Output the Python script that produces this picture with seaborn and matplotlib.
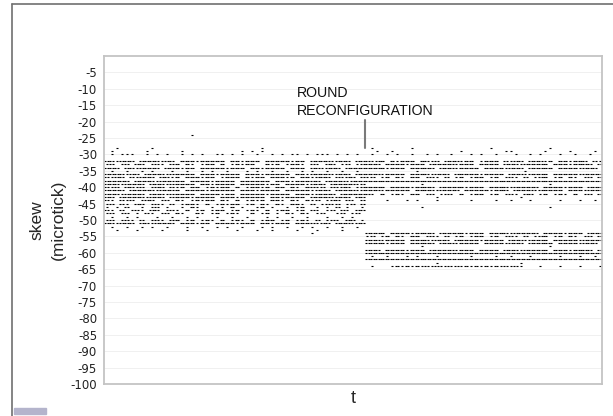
import numpy as np
import pandas as pd
import matplotlib
matplotlib.use("Agg")
import matplotlib.pyplot as plt
import seaborn as sns
from matplotlib.patches import Rectangle
from matplotlib.lines import Line2D

# ---- data -----------------------------------------------------------------
# Each row: skew level (microtick) and a per-bin dot count string
# ('.' = 0 dots, ':' = 1 dot, '#' = 2 dots); one bin = 1 unit of t.
split_t = 52.4          # round reconfiguration instant
t_max = 100.0

left_levels = [-24, -28, -29, -30, -32, -33, -34, -35, -36, -37, -38, -39, -40,
               -41, -42, -43, -44, -45, -46, -47, -48, -49, -50, -51, -52, -53, -54]
left_rows = [
    ".................:",
    "..:......:.....................:",
    ".:......:......:...........:.:.:",
    ".:.:::..:.:.:..:.:.:..::.:.:..:..:.:.::.:.:::.:.:.:.",
    "##:###.####:##.###:#####.##:###.#####:##.####:###.##",
    ":#.:#.##.:#:.##.#:.:##.#.:#:##..#:#.:##:.#:.##.:#.:#",
    "###.##:####.###:##.#####:###.##:####.###.##:###.####",
    ".:..:..:.:...:..:..:.:..:...:.:..:..:..:.:..:..:..:.",
    "####:##.####:#####.###:####.###:#####.##:####:###.##",
    "#:##.#:###.##:#.###:##.:###.#:##.###:#.##:###.#:##.#",
    "#####.####:#####.####:####.######.###:#####.####:###",
    "###:####.###:#####.##:####.#####:##.####:###.#####:#",
    "#:#.##:#.:##.#:#.##.:#:##.#.:##:#.##.#:.##:#.#:##.:#",
    "####.#####:####.####:#####.###:####.#####:###.####:#",
    "###:####.###:#####.####:##.#####:####.###:####.#####",
    "##.#####:###.####:####.###:#####.##:####.####:###.##",
    "#:.#:#.:##.:#.#:.:#:##.#:.#.:#:#.##:.#:.#:#.:##.#:.#",
    ":#.#:.##.:#:.#.:##:.#.:#:##.:#.#:.#:.##:.#.:#:#.:#.#",
    ":.:.#..:.:#.:..:.#:..:.:.#.:..:#.:..:.:#..:.:.#.:..:",
    "#:.#.:#:.##.:#:.#.:#.:##.:#.:#:.#.:##.:#.#:.:#.#:.##",
    ":#.:#.:.#:.:#.#:..#:.:#.:#:..#.:#.:.#:.#:.:#..:#.:#.",
    ".:..:.:...:..:..:.:...:..:..:...:.:..:..:...:..:.:..",
    ":#.:#:.#.:#:.##.:#.:#:.#.:#:.#.:##.:#.:#:.#.:#:.##.:",
    "##:###.##:####.###:##.####:###.##:###.####:##.###:##",
    ".:..:..:.:..:...:..:..:.:..:...:.:..:..:.:..:..:..:.",
    "..:...:....:....:...:.....:...:..:....:...:....:....",
    ".........................................:",
]

right_levels = [-28, -29, -30, -32, -33, -34, -35, -36, -37, -38, -39, -40, -41,
                -42, -43, -44, -46, -54, -55, -56, -57, -58, -59, -60, -61, -62,
                -63, -64]
right_rows = [
    ".:.......:...............:...........:",
    "..:..:.............:........::......:....:....:",
    ".:..:.:..:..:.:..:...:.:..:...:..:.:...:..:..:..",
    "#:##.#:###.##:#.###:##.:###.#:##.###:#.##:###.#:",
    "###.####:###.#####:###.####.###:#####.###:####.#",
    "####:###.#####.###:####.####:###.#####.####:###.",
    "..........:.....................:..............",
    "###:####.####:###.#####:####.###:####.#####:####",
    ":#.:#.#:.##.:#:.#.:#.:##.:#.:#:.#.:##.:#.#:.:#.#",
    "################################################",
    "...........:.........................:.........",
    "####.####:####.#####:###.####:#####.####:###.###",
    "###:#####.####:####.#####:###.####:#####.###:###",
    "#:.#.:#:.##.:#.:#:.#.:##.:#.:#:.##.:#.:#:.#.:#.#",
    "..............:................:...............",
    "....:...:.:...:......:....:..:...:.....:...:..:",
    "...........:.........................:.........",
    "####.####:####.#####:###.####:#####.####:###.###",
    ":#.:#.#:.##.:#:.#.:#.:##.:#.:#:.#.:##.:#.#:.:#.#",
    "###:####.####:###.#####:####.###:####.#####:####",
    "####:###.#####.###:####.####:###.#####.####:###.",
    "...........:.........................:.........",
    "###.####:###.#####:###.####.###:#####.###:####.#",
    "################################################",
    ".:..:...:.:...:......:....:..:...:.....:...:..:.",
    "################################################",
    "..............:................:...............",
    ".:...:#:#:#:#:#:#:#:#:#:#:#:#:#:...:...:...:...:",
]

y_ticks = list(range(-100, 0, 5))
y_tick_labels = [str(v) for v in y_ticks]


def expand(levels, rows, t0, t1, nbins):
    width = (t1 - t0) / nbins
    ts, ys = [], []
    code = {'.': 0, ':': 1, '#': 2}
    for lev, row in zip(levels, rows):
        row = row.ljust(nbins, '.')[:nbins]
        for i, ch in enumerate(row):
            c = code.get(ch, 0)
            for k in range(c):
                ts.append(t0 + (i + (k + 0.5) / c) * width)
                ys.append(lev)
    return ts, ys


lt, ly = expand(left_levels, left_rows, 0.0, split_t, 52)
rt, ry = expand(right_levels, right_rows, split_t, t_max, 48)
df = pd.DataFrame({"t": lt + rt, "skew": ly + ry})

# ---- figure -----------------------------------------------------------------
sns.set_theme(style="white")
plt.rcParams['font.family'] = ['DejaVu Sans']

fig = plt.figure(figsize=(6.13, 4.16), dpi=100)
fig.patch.set_facecolor("white")
ax = fig.add_axes([104 / 613, 32 / 416, 498 / 613, 328 / 416])

sns.scatterplot(data=df, x="t", y="skew", ax=ax, marker="_", s=1.8,
                color="black", linewidth=0.8, legend=False)

ax.set_xlim(0, t_max)
ax.set_ylim(-100, 0)
ax.set_yticks(y_ticks)
ax.set_yticklabels(y_tick_labels, fontsize=8.5, color="#222222")
ax.set_xticks([])
ax.tick_params(axis="y", length=0, pad=5)
for v in range(-95, 0, 5):
    ax.axhline(v, color="#eeeeee", lw=0.6, zorder=0)
for sp in ax.spines.values():
    sp.set_color("#c4c4c4")
    sp.set_linewidth(1.3)

ax.set_xlabel("t", fontsize=13, family=["Liberation Sans", "DejaVu Sans"], labelpad=4)
ax.set_ylabel("skew\n(microtick)", fontsize=12.5,
              family=["Liberation Sans", "DejaVu Sans"], labelpad=3.5, linespacing=1.5)

# annotation
ax.text(38.8, -9.2, "ROUND\nRECONFIGURATION", fontsize=10.2,
        family=["Liberation Sans", "DejaVu Sans"], va="top", ha="left",
        linespacing=1.35, color="#111111")
ax.plot([split_t, split_t], [-19.5, -28.2], color="#7a7a7a", lw=1.5)

# outer frame and small badge
fig.add_artist(Line2D([12 / 613, 12 / 613], [0, 412 / 416], color="#707070",
                      lw=1.2, transform=fig.transFigure))
fig.add_artist(Line2D([12 / 613, 1.0], [412 / 416, 412 / 416], color="#707070",
                      lw=1.2, transform=fig.transFigure))
fig.add_artist(Rectangle((14 / 613, 2 / 416), 32 / 613, 6 / 416,
                         color="#b4b4cc", transform=fig.transFigure))

fig.savefig("out.png", dpi=100)
